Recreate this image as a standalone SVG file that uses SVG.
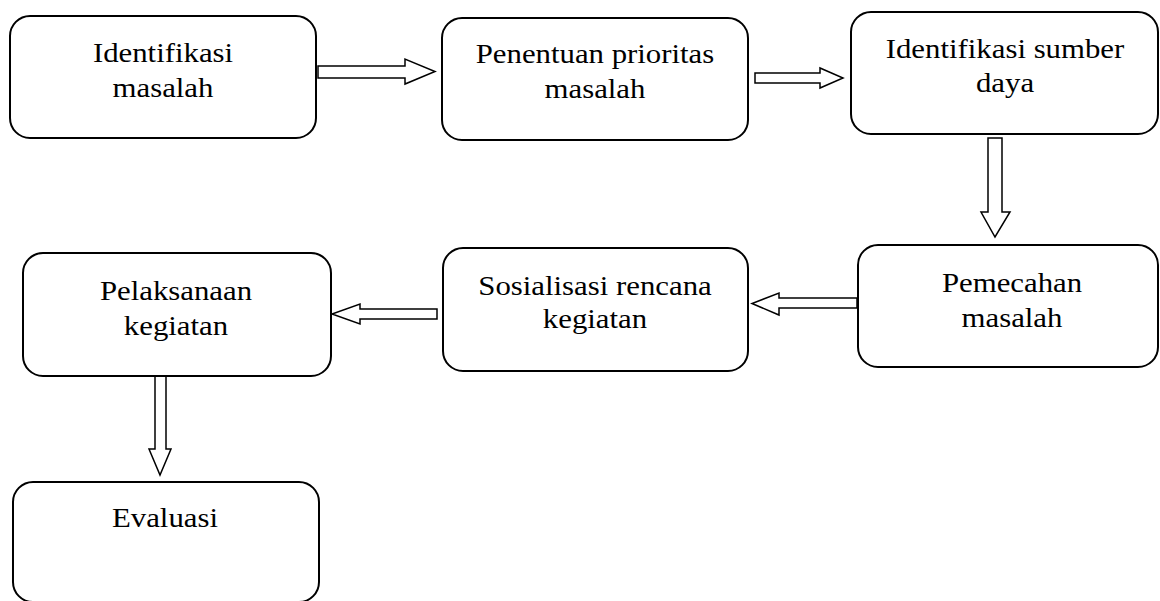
<svg xmlns="http://www.w3.org/2000/svg" width="1160" height="601" viewBox="0 0 1160 601">
<style>
.box{fill:#fff;stroke:#000;stroke-width:2}
.arr{fill:#fff;stroke:#000;stroke-width:1.5;stroke-linejoin:miter}
.t{font-family:'Liberation Serif','Times New Roman',Times,serif;font-size:28px;fill:#000;text-anchor:middle}
</style>
<rect width="1160" height="601" fill="#fff"/>
<g id="connectors">
<polygon class="arr" points="318,66 405,66 405,59 435,71.5 405,84 405,78 318,78"/>
<polygon class="arr" points="755,73 820,73 820,68 843,78 820,88 820,83 755,83"/>
<polygon class="arr" points="988,138 1002,138 1002,212 1010,212 995,237 981,212 988,212"/>
<polygon class="arr" points="857,298 779,298 779,293 752,303.5 779,315 779,308 857,308"/>
<polygon class="arr" points="437,309 360,309 360,304 332,314 360,324 360,319 437,319"/>
<polygon class="arr" points="155,375 166,375 166,449 171,449 160,475 149,449 155,449"/>
</g>
<g id="n1"><rect class="box" x="10" y="16" width="306" height="122" rx="20"/>
<text class="t" font-family="Liberation Serif, serif" transform="matrix(1.1 0 0 1 163 0)" x="0" y="62">Identifikasi</text>
<text class="t" font-family="Liberation Serif, serif" transform="matrix(1.1 0 0 1 163 0)" x="0" y="97">masalah</text></g>
<g id="n2"><rect class="box" x="442" y="18" width="306" height="122" rx="20"/>
<text class="t" font-family="Liberation Serif, serif" transform="matrix(1.1 0 0 1 595 0)" x="0" y="63">Penentuan prioritas</text>
<text class="t" font-family="Liberation Serif, serif" transform="matrix(1.1 0 0 1 595 0)" x="0" y="98">masalah</text></g>
<g id="n3"><rect class="box" x="851" y="12" width="307" height="122" rx="20"/>
<text class="t" font-family="Liberation Serif, serif" transform="matrix(1.1 0 0 1 1005 0)" x="0" y="58">Identifikasi sumber</text>
<text class="t" font-family="Liberation Serif, serif" transform="matrix(1.1 0 0 1 1005 0)" x="0" y="92">daya</text></g>
<g id="n4"><rect class="box" x="858" y="245" width="300" height="122" rx="20"/>
<text class="t" font-family="Liberation Serif, serif" transform="matrix(1.1 0 0 1 1012 0)" x="0" y="292">Pemecahan</text>
<text class="t" font-family="Liberation Serif, serif" transform="matrix(1.1 0 0 1 1012 0)" x="0" y="327">masalah</text></g>
<g id="n5"><rect class="box" x="443" y="248" width="305" height="123" rx="20"/>
<text class="t" font-family="Liberation Serif, serif" transform="matrix(1.1 0 0 1 595 0)" x="0" y="295">Sosialisasi rencana</text>
<text class="t" font-family="Liberation Serif, serif" transform="matrix(1.1 0 0 1 595 0)" x="0" y="328">kegiatan</text></g>
<g id="n6"><rect class="box" x="23" y="253" width="308" height="123" rx="20"/>
<text class="t" font-family="Liberation Serif, serif" transform="matrix(1.1 0 0 1 176 0)" x="0" y="300">Pelaksanaan</text>
<text class="t" font-family="Liberation Serif, serif" transform="matrix(1.1 0 0 1 176 0)" x="0" y="335">kegiatan</text></g>
<g id="n7"><rect class="box" x="13" y="482" width="306" height="120" rx="20"/>
<text class="t" font-family="Liberation Serif, serif" transform="matrix(1.1 0 0 1 165 0)" x="0" y="527">Evaluasi</text></g>
</svg>
